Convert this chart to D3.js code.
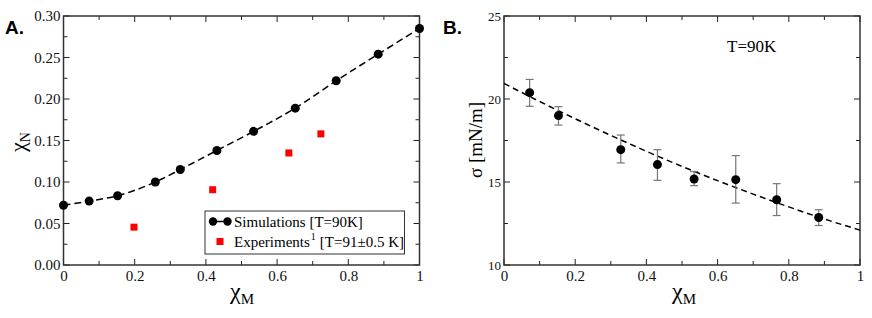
<!DOCTYPE html>
<html><head><meta charset="utf-8">
<script src="https://cdn.jsdelivr.net/npm/d3@7"></script>
<style>body{margin:0;background:#fff}svg{display:block}
.sf{font-family:"Liberation Serif","Times New Roman","DejaVu Serif",serif}
.ss{font-family:"Liberation Sans",Arial,"DejaVu Sans",sans-serif}</style>
</head><body><svg id="c" width="872" height="318"></svg>
<script>
// Panel A data
const simX = [0, 0.072, 0.152, 0.258, 0.328, 0.431, 0.534, 0.651, 0.766, 0.884, 1.0];
const simY = [0.072, 0.077, 0.0835, 0.100, 0.115, 0.138, 0.161, 0.189, 0.222, 0.254, 0.285];
const expX = [0.198, 0.419, 0.633, 0.723];
const expY = [0.0456, 0.0907, 0.135, 0.158];
const expErr = [0.003, 0.003, 0.004, 0.004];
// Panel B data
const sigX = [0.072, 0.153, 0.328, 0.431, 0.534, 0.651, 0.766, 0.884];
const sigY = [20.38, 19.0, 16.95, 16.05, 15.18, 15.14, 13.93, 12.86];
const sigLo = [19.56, 18.43, 16.15, 15.1, 14.78, 13.73, 12.98, 12.38];
const sigHi = [21.18, 19.54, 17.83, 16.95, 15.63, 16.59, 14.9, 13.33];
const fitX = [0, 0.1, 0.2, 0.3, 0.4, 0.5, 0.6, 0.7, 0.8, 0.9, 1.0];
const fitY = [20.94, 19.85, 18.81, 17.81, 16.85, 15.94, 15.08, 14.27, 13.50, 12.77, 12.1];
const xTicks = [0, 0.2, 0.4, 0.6, 0.8, 1];
const yTicksA = [0, 0.05, 0.10, 0.15, 0.20, 0.25, 0.30];
const yTicksB = [10, 15, 20, 25];

const svg = d3.select("#c");

function frame(g, x, y, xMinor, yMinor, xMaj, yMaj, yFmt, xFmt, ySize) {
  const [x0, x1] = x.range(), [y0, y1] = y.range();
  const tk = g.append("g").attr("stroke", "#222").attr("stroke-width", 1);
  const maj = 6, mn = 4;
  xMinor.forEach(v => {
    const L = xMaj.some(m => Math.abs(m - v) < 1e-9) ? maj : mn;
    tk.append("line").attr("x1", x(v)).attr("x2", x(v)).attr("y1", y0).attr("y2", y0 - L);
    tk.append("line").attr("x1", x(v)).attr("x2", x(v)).attr("y1", y1).attr("y2", y1 + L);
  });
  yMinor.forEach(v => {
    const L = yMaj.some(m => Math.abs(m - v) < 1e-9) ? maj : mn;
    tk.append("line").attr("y1", y(v)).attr("y2", y(v)).attr("x1", x0).attr("x2", x0 + L);
    tk.append("line").attr("y1", y(v)).attr("y2", y(v)).attr("x1", x1).attr("x2", x1 - L);
  });
  g.append("rect").attr("x", x0).attr("y", y1).attr("width", x1 - x0).attr("height", y0 - y1)
    .attr("fill", "none").attr("stroke", "#333").attr("stroke-width", 1.5);
  const xa = d3.axisBottom(x).tickValues(xMaj).tickSize(0).tickPadding(5).tickFormat(xFmt);
  g.append("g").attr("transform", `translate(0,${y0})`).call(xa)
    .call(s => { s.attr("font-family", null).attr("font-size", null).attr("class", "sf");
      s.select(".domain").remove(); s.selectAll("text").style("font-size", "15px").attr("fill", "#111"); });
  const ya = d3.axisLeft(y).tickValues(yMaj).tickSize(0).tickPadding(3).tickFormat(yFmt);
  g.append("g").attr("transform", `translate(${x0},0)`).call(ya)
    .call(s => { s.attr("font-family", null).attr("font-size", null).attr("class", "sf");
      s.select(".domain").remove(); s.selectAll("text").style("font-size", ySize + "px").attr("fill", "#111"); });
}

const xFmt = d => d === 0 ? "0" : d === 1 ? "1" : d3.format(".1f")(d);
const minorX = d3.range(0, 1.0001, 0.1).map(v => +v.toFixed(2));

// ---------- Panel A ----------
const gA = svg.append("g");
const xA = d3.scaleLinear().domain([0, 1]).range([63.5, 419.5]);
const yA = d3.scaleLinear().domain([0, 0.30]).range([265, 16]);
frame(gA, xA, yA, minorX, d3.range(0, 0.30001, 0.025).map(v => +v.toFixed(3)), xTicks, yTicksA, d3.format(".2f"), xFmt, 15);

const simData = simX.map((v, i) => ({x: v, y: simY[i]}));
gA.append("path").datum(simData)
  .attr("d", d3.line().x(d => xA(d.x)).y(d => yA(d.y)).curve(d3.curveMonotoneX))
  .attr("fill", "none").attr("stroke", "#000").attr("stroke-width", 1.5).attr("stroke-dasharray", "7,4");
gA.selectAll(".sim").data(simData).join("circle")
  .attr("cx", d => xA(d.x)).attr("cy", d => yA(d.y)).attr("r", 4.5).attr("fill", "#000");
const expData = expX.map((v, i) => ({x: v, y: expY[i], e: expErr[i]}));
gA.selectAll(".eb").data(expData).join("line")
  .attr("x1", d => xA(d.x)).attr("x2", d => xA(d.x))
  .attr("y1", d => yA(d.y - d.e)).attr("y2", d => yA(d.y + d.e))
  .attr("stroke", "#f88").attr("stroke-width", 1);
gA.selectAll(".ex").data(expData).join("rect")
  .attr("x", d => xA(d.x) - 3.5).attr("y", d => yA(d.y) - 3.5).attr("width", 7).attr("height", 7).attr("fill", "#f00");

// legend
const lg = gA.append("g");
lg.append("rect").attr("x", 205).attr("y", 211).attr("width", 199.5).attr("height", 43)
  .attr("fill", "#fff").attr("stroke", "#333").attr("stroke-width", 1);
lg.append("line").attr("x1", 213).attr("x2", 227.5).attr("y1", 221.5).attr("y2", 221.5).attr("stroke", "#000").attr("stroke-width", 1.5);
[213, 227.5].forEach(cx => lg.append("circle").attr("cx", cx).attr("cy", 221.5).attr("r", 4.2).attr("fill", "#000"));
lg.append("text").attr("class", "sf").attr("x", 234).attr("y", 226.5).style("font-size", "15px").text("Simulations [T=90K]");
lg.append("rect").attr("x", 216.5).attr("y", 238).attr("width", 7).attr("height", 7).attr("fill", "#f00");
const t2 = lg.append("text").attr("class", "sf").attr("x", 234).attr("y", 246.5).style("font-size", "15px");
t2.append("tspan").text("Experiments");
t2.append("tspan").style("font-size", "10px").attr("dy", -7).attr("dx", 1).text("1");
t2.append("tspan").attr("dy", 7).attr("dx", 4).text("[T=91±0.5 K]");

gA.append("text").attr("class", "ss").attr("x", 5).attr("y", 34)
  .attr("font-weight", "bold").style("font-size", "19px").text("A.");
const ylA = gA.append("text").attr("class", "sf").attr("transform", "translate(25,142) rotate(-90)").attr("text-anchor", "middle")
  .style("font-size", "22px");
ylA.append("tspan").text("χ");
ylA.append("tspan").style("font-size", "14px").attr("dy", 5).text("N");
const xlA = gA.append("text").attr("class", "sf").attr("x", 242).attr("y", 299).attr("text-anchor", "middle").style("font-size", "24px");
xlA.append("tspan").text("χ");
xlA.append("tspan").style("font-size", "15px").attr("dy", 5).text("M");

// ---------- Panel B ----------
const gB = svg.append("g");
const xB = d3.scaleLinear().domain([0, 1]).range([504, 860]);
const yB = d3.scaleLinear().domain([10, 25]).range([265, 16]);
frame(gB, xB, yB, minorX, d3.range(10, 25.001, 2.5), xTicks, yTicksB, d3.format("d"), xFmt, 13);

const fitData = fitX.map((v, i) => ({x: v, y: fitY[i]}));
gB.append("path").datum(fitData)
  .attr("d", d3.line().x(d => xB(d.x)).y(d => yB(d.y)).curve(d3.curveMonotoneX))
  .attr("fill", "none").attr("stroke", "#000").attr("stroke-width", 1.5).attr("stroke-dasharray", "6,4");
const sigData = sigX.map((v, i) => ({x: v, y: sigY[i], lo: sigLo[i], hi: sigHi[i]}));
const eb = gB.append("g").attr("stroke", "#777").attr("stroke-width", 1.2);
sigData.forEach(d => {
  eb.append("line").attr("x1", xB(d.x)).attr("x2", xB(d.x)).attr("y1", yB(d.lo)).attr("y2", yB(d.hi));
  eb.append("line").attr("x1", xB(d.x) - 4).attr("x2", xB(d.x) + 4).attr("y1", yB(d.lo)).attr("y2", yB(d.lo));
  eb.append("line").attr("x1", xB(d.x) - 4).attr("x2", xB(d.x) + 4).attr("y1", yB(d.hi)).attr("y2", yB(d.hi));
});
gB.selectAll(".sg").data(sigData).join("circle")
  .attr("cx", d => xB(d.x)).attr("cy", d => yB(d.y)).attr("r", 4.5).attr("fill", "#000");

gB.append("text").attr("class", "sf").attr("x", 727).attr("y", 52).style("font-size", "17px").text("T=90K");
gB.append("text").attr("class", "ss").attr("x", 443).attr("y", 34)
  .attr("font-weight", "bold").style("font-size", "19px").text("B.");
gB.append("text").attr("class", "sf").attr("transform", "translate(482,140) rotate(-90)").attr("text-anchor", "middle")
  .style("font-size", "19px").text("σ [mN/m]");
const xlB = gB.append("text").attr("class", "sf").attr("x", 684).attr("y", 299).attr("text-anchor", "middle").style("font-size", "24px");
xlB.append("tspan").text("χ");
xlB.append("tspan").style("font-size", "15px").attr("dy", 5).text("M");
</script></body></html>
